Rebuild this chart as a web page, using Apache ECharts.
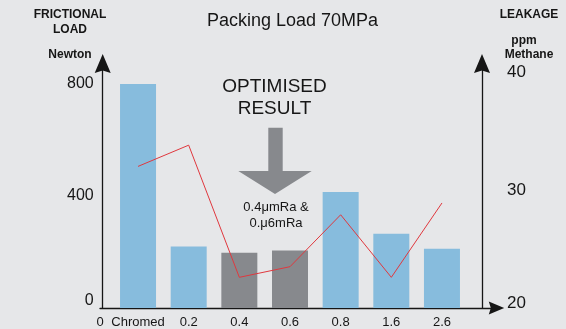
<!DOCTYPE html>
<html>
<head>
<meta charset="utf-8">
<script src="https://cdn.jsdelivr.net/npm/echarts@6/dist/echarts.min.js"></script>
<style>
html,body{margin:0;padding:0;background:#e6e7e9;}
#chart{width:566px;height:329px;}
</style>
</head>
<body>
<div id="chart"></div>
<script>
// ---- data ----
const categories = ['Chromed', '0.2', '0.4', '0.6', '0.8', '1.6', '2.6'];
const frictionalLoad = [800, 220, 197, 205, 414, 265, 212];   // Newton
const leakage = [32.0, 33.8, 22.6, 23.5, 27.9, 22.6, 28.9];    // ppm Methane
const optimisedIdx = [2, 3];
const leftTicks = [0, 400, 800];
const rightTicks = [20, 30, 40];

const FONT = '"Liberation Sans", Arial, Helvetica, sans-serif';
const BLUE = '#87bcdd', GREY = '#87898d', RED = '#e0383e', INK = '#161616';

const yArrow = 'path://M0,0L8,19L0,16.5L-8,19Z';

const chart = echarts.init(document.getElementById('chart'));
chart.setOption({
  backgroundColor: '#e6e7e9',
  animation: false,
  textStyle: {fontFamily: FONT, color: INK},
  title: {
    text: 'Packing Load 70MPa', left: 202, top: 7,
    textStyle: {fontFamily: FONT, fontSize: 18, fontWeight: 'normal', color: INK}
  },
  grid: [
    {left: 112.7, right: 98.7, top: 63.5, bottom: 21},
    {left: 100, right: 69.5, top: 63.5, bottom: 21}
  ],
  xAxis: [
    {
      type: 'category', gridIndex: 0, data: categories,
      axisLine: {show: false}, axisTick: {show: false},
      axisLabel: {interval: 0, hideOverlap: false, fontSize: 13, color: INK, margin: 8, fontFamily: FONT}
    },
    {
      type: 'value', gridIndex: 1, min: 0, max: 1, interval: 1,
      axisLine: {show: true, symbol: ['none', yArrow], symbolSize: [13, 17],
                 lineStyle: {color: INK, width: 1.3}},
      axisTick: {show: false}, splitLine: {show: false},
      axisLabel: {fontSize: 13, color: INK, margin: 8, fontFamily: FONT,
                  formatter: v => v === 0 ? '0' : ''}
    }
  ],
  yAxis: [
    {
      type: 'value', gridIndex: 0, position: 'left', offset: 10,
      min: 0, max: 873, interval: 400,
      axisLine: {show: true, symbol: ['none', yArrow], symbolSize: [16.7, 19],
                 lineStyle: {color: INK, width: 1.3}},
      axisTick: {show: false}, splitLine: {show: false},
      axisLabel: {
        showMaxLabel: false, fontSize: 16, color: INK, margin: 9, fontFamily: FONT,
        formatter: v => leftTicks.includes(v) ? (v === 0 ? '{z|0}' : String(v)) : '',
        rich: {z: {fontSize: 16, color: INK, fontFamily: FONT, padding: [0, 0, 14, 0]}}
      }
    },
    {
      type: 'value', gridIndex: 0, position: 'right', offset: 14.7,
      min: 20, max: 40.72, interval: 10,
      axisLine: {show: true, symbol: ['none', yArrow], symbolSize: [16.7, 19],
                 lineStyle: {color: INK, width: 1.3}},
      axisTick: {show: false}, splitLine: {show: false},
      axisLabel: {
        showMaxLabel: false, fontSize: 17, color: INK, margin: 25, fontFamily: FONT,
        formatter: v => rightTicks.includes(v) ? (v === 20 ? '{z|20}' : String(v)) : '',
        rich: {z: {fontSize: 17, color: INK, fontFamily: FONT, padding: [0, 0, 10, 0]}}
      }
    },
    {type: 'value', gridIndex: 1, min: 0, max: 1, show: false}
  ],
  series: [
    {
      type: 'bar', xAxisIndex: 0, yAxisIndex: 0, barWidth: 36,
      data: frictionalLoad.map((v, i) => ({
        value: v, itemStyle: {color: optimisedIdx.includes(i) ? GREY : BLUE}
      }))
    },
    {
      type: 'line', xAxisIndex: 0, yAxisIndex: 1, data: leakage,
      showSymbol: false, symbol: 'none',
      lineStyle: {color: RED, width: 1}
    }
  ],
  graphic: [
    {type: 'text', x: 70, y: 15, style: {text: 'FRICTIONAL', font: 'bold 12px ' + FONT, fill: INK, textAlign: 'center', textVerticalAlign: 'middle'}},
    {type: 'text', x: 70, y: 30, style: {text: 'LOAD', font: 'bold 12px ' + FONT, fill: INK, textAlign: 'center', textVerticalAlign: 'middle'}},
    {type: 'text', x: 70, y: 55, style: {text: 'Newton', font: 'bold 12px ' + FONT, fill: INK, textAlign: 'center', textVerticalAlign: 'middle'}},
    {type: 'text', x: 529, y: 15, style: {text: 'LEAKAGE', font: 'bold 12px ' + FONT, fill: INK, textAlign: 'center', textVerticalAlign: 'middle'}},
    {type: 'text', x: 524, y: 41, style: {text: 'ppm', font: 'bold 12px ' + FONT, fill: INK, textAlign: 'center', textVerticalAlign: 'middle'}},
    {type: 'text', x: 529, y: 55, style: {text: 'Methane', font: 'bold 12px ' + FONT, fill: INK, textAlign: 'center', textVerticalAlign: 'middle'}},
    {type: 'text', x: 274.5, y: 86.5, style: {text: 'OPTIMISED', font: '19px ' + FONT, fill: INK, textAlign: 'center', textVerticalAlign: 'middle'}},
    {type: 'text', x: 274.5, y: 109, style: {text: 'RESULT', font: '19px ' + FONT, fill: INK, textAlign: 'center', textVerticalAlign: 'middle'}},
    {type: 'polygon', shape: {points: [[268.3,127.7],[282.7,127.7],[282.7,171],[311.7,171],[275,194],[238.3,171],[268.3,171]]}, style: {fill: GREY}},
    {type: 'text', x: 276, y: 207, style: {text: '0.4\u03bcmRa &', font: '13px ' + FONT, fill: INK, textAlign: 'center', textVerticalAlign: 'middle'}},
    {type: 'text', x: 276, y: 223.5, style: {text: '0.\u03bc6mRa', font: '13px ' + FONT, fill: INK, textAlign: 'center', textVerticalAlign: 'middle'}}
  ]
});
</script>
</body>
</html>
